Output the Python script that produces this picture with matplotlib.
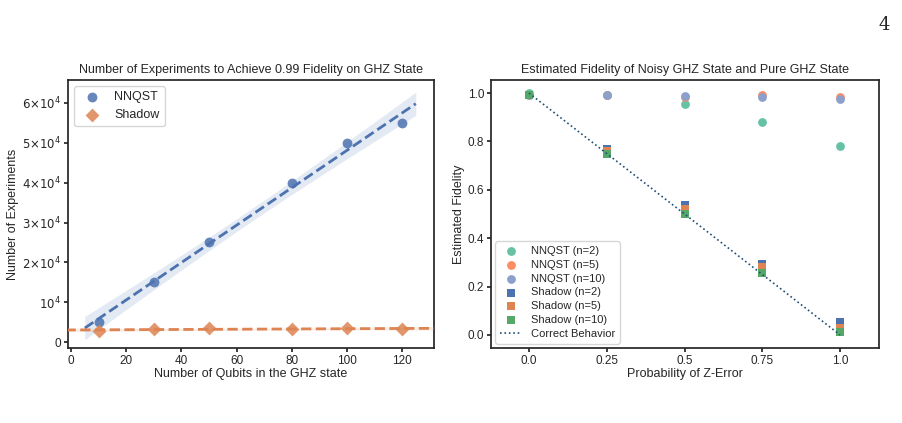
import numpy as np
import matplotlib
matplotlib.use("Agg")
import matplotlib.pyplot as plt
import seaborn as sns

sns.set_theme(style="ticks", palette="deep")
plt.rcParams['font.family'] = ['Liberation Sans', 'DejaVu Sans']

# left panel data
qubits = [10, 30, 50, 80, 100, 120]
nnqst_exp = [5000, 15000, 25000, 40000, 50000, 55000]
shadow_exp = [2800, 3200, 3500, 3200, 3500, 3200]

# right panel data
p_err = [0.0, 0.25, 0.5, 0.75, 1.0]
p_ticks = ["0.0", "0.25", "0.5", "0.75", "1.0"]
nnqst_fid = {2: [1.0, 0.99, 0.955, 0.882, 0.782],
             5: [0.99, 0.99, 0.985, 0.99, 0.985],
             10: [0.99, 0.992, 0.988, 0.985, 0.975]}
shadow_fid = {2: [0.99, 0.77, 0.538, 0.295, 0.055],
              5: [0.99, 0.76, 0.52, 0.28, 0.03],
              10: [0.99, 0.748, 0.50, 0.255, 0.012]}
correct = [1.0, 0.75, 0.5, 0.25, 0.0]

deep = sns.color_palette("deep")
set2 = sns.color_palette("Set2")

fig = plt.figure(figsize=(9.03, 4.23), dpi=100)
ax1 = fig.add_axes([68/903, 1-348/423, 366/903, 268/423])
ax2 = fig.add_axes([491/903, 1-348/423, 388/903, 268/423])
fig.text(0.985, 0.93, "4", fontsize=13, family="DejaVu Serif", ha="right")

def fit_band(ax, x, y, xs, color):
    x = np.asarray(x, float); y = np.asarray(y, float)
    b, a = np.polyfit(x, y, 1)
    yhat = a + b * xs
    res = y - (a + b * x)
    s = np.sqrt(np.sum(res**2) / (len(x) - 2))
    se = s * np.sqrt(1/len(x) + (xs - x.mean())**2 / np.sum((x - x.mean())**2))
    ax.fill_between(xs, yhat - 2.2*se, yhat + 2.2*se, color=color, alpha=0.15, lw=0)
    ax.plot(xs, yhat, ls="--", color=color, lw=2, zorder=4)

fit_band(ax1, qubits, nnqst_exp, np.linspace(5, 125, 100), deep[0])
fit_band(ax1, qubits, shadow_exp, np.linspace(-2, 132, 100), deep[1])
ax1.scatter(qubits, nnqst_exp, s=50, color=deep[0], alpha=0.85, lw=0, label="NNQST", zorder=3)
ax1.scatter(qubits, shadow_exp, s=50, marker="D", color=deep[1], alpha=0.85, lw=0, label="Shadow", zorder=3)
ax1.set_xlim(-1.1, 131.6)
ax1.set_ylim(-1500, 65770)
ax1.set_yticks([0, 1e4, 2e4, 3e4, 4e4, 5e4, 6e4])
ax1.set_yticklabels(["0", r"$10^4$", r"$2{\times}10^4$", r"$3{\times}10^4$",
                     r"$4{\times}10^4$", r"$5{\times}10^4$", r"$6{\times}10^4$"])
ax1.set_xlabel("Number of Qubits in the GHZ state", fontsize=9, labelpad=1)
ax1.set_ylabel("Number of Experiments", fontsize=9, labelpad=2)
ax1.set_title("Number of Experiments to Achieve 0.99 Fidelity on GHZ State", fontsize=9, pad=5)
ax1.legend(loc="upper left", fontsize=9)

for n, c in zip([2, 5, 10], set2[:3]):
    ax2.scatter(p_err, nnqst_fid[n], s=40, color=c, lw=0, label=f"NNQST (n={n})", zorder=3)
for n, c in zip([2, 5, 10], [deep[0], deep[1], deep[2]]):
    ax2.scatter(p_err, shadow_fid[n], s=40, marker="s", color=c, lw=0, label=f"Shadow (n={n})", zorder=3)
ax2.plot(p_err, correct, ls=":", color="#1f4e79", lw=1.2, label="Correct Behavior", zorder=4)
ax2.set_xlim(-0.122, 1.125)
ax2.set_ylim(-0.054, 1.054)
ax2.set_xticks(p_err)
ax2.set_xticklabels(p_ticks)
ax2.set_xlabel("Probability of Z-Error", fontsize=9, labelpad=1)
ax2.set_ylabel("Estimated Fidelity", fontsize=9, labelpad=2)
ax2.set_title("Estimated Fidelity of Noisy GHZ State and Pure GHZ State", fontsize=9, pad=5)
ax2.legend(loc="lower left", fontsize=8, borderaxespad=0.4, handletextpad=0.8, labelspacing=0.35)

for ax in (ax1, ax2):
    ax.tick_params(labelsize=8.5, length=3, pad=2)

fig.savefig("out.png", dpi=100)
